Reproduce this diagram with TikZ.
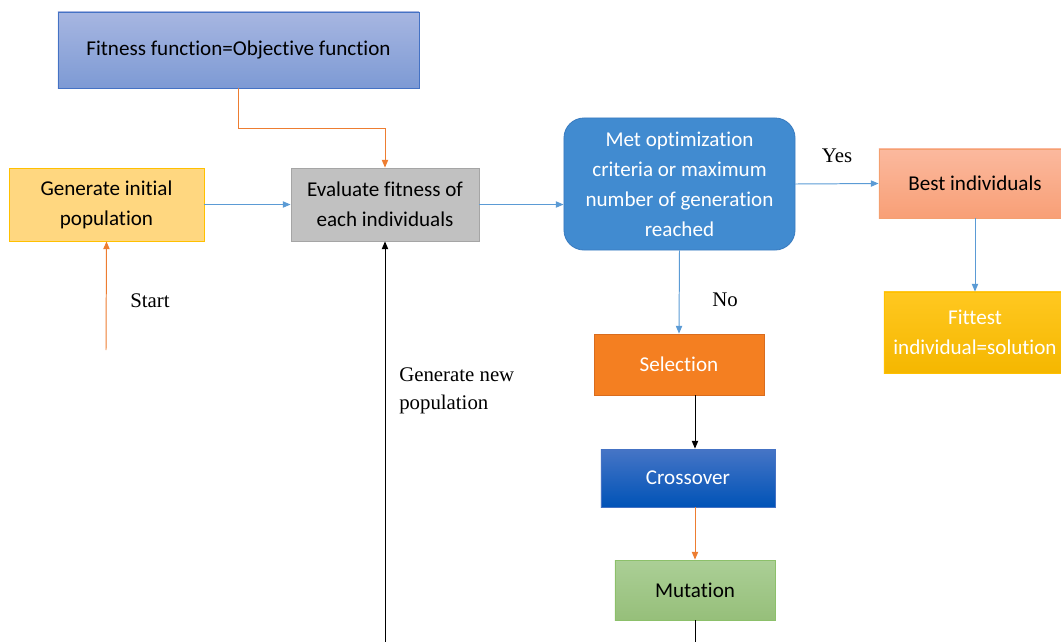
\documentclass[tikz,border=0pt]{standalone}
\usepackage{fontspec}
\setmainfont{Liberation Serif}
\newfontfamily\boxfont[Ligatures=NoCommon]{Carlito}
\usetikzlibrary{arrows.meta}
% colours of the boxes and lines
\definecolor{lineblue}{HTML}{5B9BD5}
\definecolor{lineorange}{HTML}{ED7D31}
\definecolor{fitTop}{HTML}{A7B6E1}
\definecolor{fitBot}{HTML}{7D9AD4}
\definecolor{fitLine}{HTML}{4472C4}
\definecolor{genFill}{HTML}{FFD780}
\definecolor{genLine}{HTML}{FFC000}
\definecolor{evalFill}{HTML}{C1C1C1}
\definecolor{evalLine}{HTML}{A5A5A5}
\definecolor{metFill}{HTML}{418BD0}
\definecolor{metLine}{HTML}{3A7CC0}
\definecolor{bestTop}{HTML}{FBB99E}
\definecolor{bestBot}{HTML}{F89F76}
\definecolor{bestLine}{HTML}{F4A070}
\definecolor{fitsTop}{HTML}{FFC820}
\definecolor{fitsBot}{HTML}{F5B700}
\definecolor{selFill}{HTML}{F47F21}
\definecolor{selLine}{HTML}{D96C1E}
\definecolor{crossTop}{HTML}{4675C6}
\definecolor{crossBot}{HTML}{0053B7}
\definecolor{mutTop}{HTML}{ABCF96}
\definecolor{mutBot}{HTML}{96BF7A}
\definecolor{mutLine}{HTML}{8CC06A}
\begin{document}
\begin{tikzpicture}[x=0.025cm, y=-0.025cm, >={Triangle[length=5.5pt,width=4.5pt]},
	box/.style={draw, line width=0.6pt, align=center, inner sep=2pt, font=\boxfont\fontsize{15}{21.3}\selectfont},
	lbl/.style={inner sep=0pt, align=left, font=\fontsize{14.8}{20}\selectfont},
	conn/.style={->, line width=0.7pt}]
	% --- Khung ---
	\useasboundingbox (0,0) rectangle (1061,641);
	% --- Các hộp ---
	\node[box, draw=fitLine, top color=fitTop, bottom color=fitBot, minimum width=9.025cm, minimum height=1.9cm] (fitness) at (238.5,50) {Fitness function=Objective function};
	\node[box, draw=genLine, fill=genFill, minimum width=4.875cm, minimum height=1.825cm] (init) at (106.5,204.5) {Generate initial\\population};
	\node[box, draw=evalLine, fill=evalFill, minimum width=4.7cm, minimum height=1.825cm] (eval) at (385,204.5) {Evaluate fitness of\\each individuals};
	\node[box, draw=metLine, fill=metFill, text=white, rounded corners=0.5cm, minimum width=5.775cm, minimum height=3.3cm] (met) at (679.5,184) {Met optimization\\criteria or maximum\\number of generation\\reached};
	\node[box, draw=bestLine, top color=bestTop, bottom color=bestBot, minimum width=4.8cm, minimum height=1.725cm] (best) at (975,183.5) {Best individuals};
	\node[box, draw=genLine, top color=fitsTop, bottom color=fitsBot, text=white, minimum width=4.55cm, minimum height=2.025cm] (fittest) at (975,332.5) {Fittest\\individual=solution};
	\node[box, draw=selLine, fill=selFill, text=white, minimum width=4.25cm, minimum height=1.525cm] (sel) at (679,364.5) {Selection};
	\node[box, draw=fitLine, top color=crossTop, bottom color=crossBot, text=white, minimum width=4.35cm, minimum height=1.45cm] (cross) at (688,478) {Crossover};
	\node[box, draw=mutLine, top color=mutTop, bottom color=mutBot, minimum width=4cm, minimum height=1.5cm] (mut) at (695,590) {Mutation};
	% --- Nhãn ---
	\node[lbl, anchor=west] (startlbl) at (130,301) {Start};
	\node[lbl] (yeslbl) at (837,156) {Yes};
	\node[lbl] (nolbl) at (725,300) {No};
	\node[lbl, anchor=west] (newpop) at (399,391) {Generate new\\population};
	% --- Đầu mút tự do ---
	\coordinate (start) at (106,350);
	\coordinate (loopin) at (385,650);
	\coordinate (mutout) at (695,650);
	% --- Mũi tên ---
	\draw[conn, lineorange] (fitness.south) -- ++(0,40) -| (eval.north);
	\draw[conn, lineorange] (start) -- (init.south);
	\draw[conn, lineblue] (init.east) -- (eval.west);
	\draw[conn, lineblue] (eval.east) -- (eval.east -| met.west);
	\draw[conn, lineblue] (met.east) -- (best.west);
	\draw[conn, lineblue] (best.south) -- (fittest.north);
	\draw[conn, lineblue] (met.south) -- (sel.north);
	\draw[conn, black] (sel.south -| mut) -- (cross.north -| mut);
	\draw[conn, lineorange] (cross.south -| mut) -- (mut.north);
	\draw[line width=0.7pt] (mut.south) -- (mutout);
	\draw[conn, black] (loopin) -- (eval.south);
\end{tikzpicture}
\end{document}
